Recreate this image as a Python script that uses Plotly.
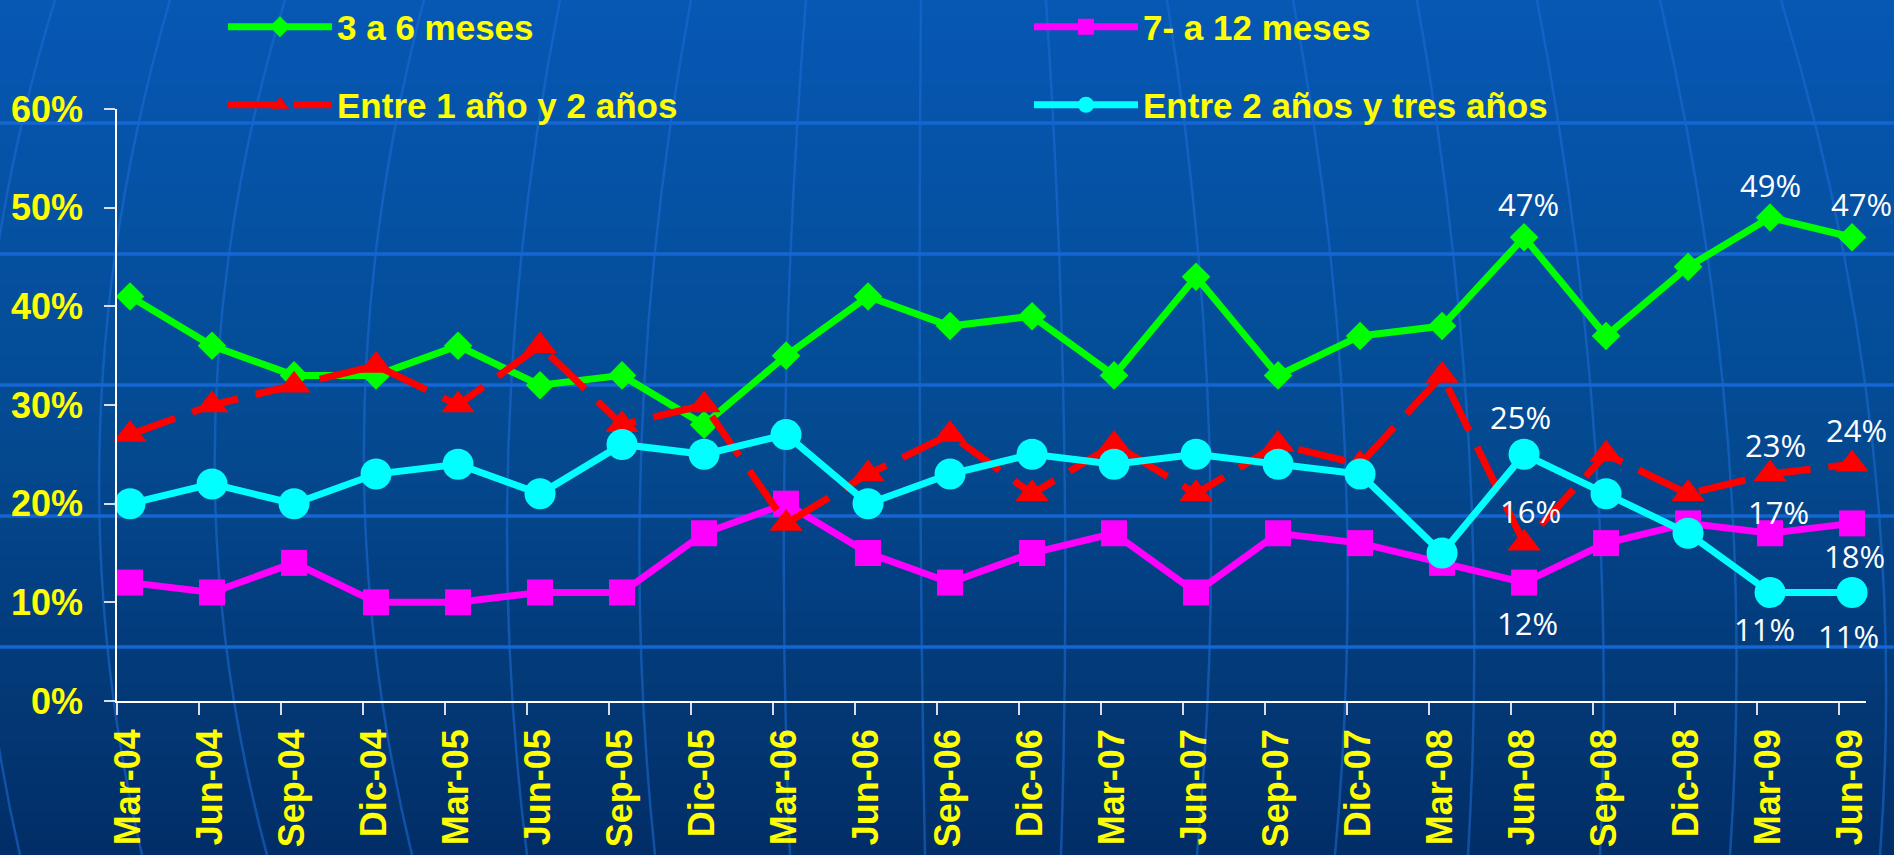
import plotly.graph_objects as go

# ---------------- data ----------------
categories = ["Mar-04", "Jun-04", "Sep-04", "Dic-04", "Mar-05", "Jun-05", "Sep-05", "Dic-05",
              "Mar-06", "Jun-06", "Sep-06", "Dic-06", "Mar-07", "Jun-07", "Sep-07", "Dic-07",
              "Mar-08", "Jun-08", "Sep-08", "Dic-08", "Mar-09", "Jun-09"]

s_3a6 = [41, 36, 33, 33, 36, 32, 33, 28, 35, 41, 38, 39, 33, 43, 33, 37, 38, 47, 37, 44, 49, 47]
s_7a12 = [12, 11, 14, 10, 10, 11, 11, 17, 20, 15, 12, 15, 17, 11, 17, 16, 14, 12, 16, 18, 17, 18]
s_1a2 = [27, 30, 32, 34, 30, 36, 28, 30, 18, 23, 27, 21, 26, 21, 26, 24, 33, 16, 25, 21, 23, 24]
s_2a3 = [20, 22, 20, 23, 24, 21, 26, 25, 27, 20, 23, 25, 24, 25, 24, 23, 15, 25, 21, 17, 11, 11]

series_names = ["3 a 6 meses", "7- a 12 meses", "Entre 1 año y 2 años", "Entre 2 años y tres años"]
y_ticks = [0, 10, 20, 30, 40, 50, 60]

# which points carry a value label: (series index, point index, x shift px, y shift px)
labelled = [
    (0, 17, 4, 33), (0, 20, 0, 33), (0, 21, 9, 33),
    (3, 17, -4, 37), (3, 20, -6, -37), (3, 21, -4, -44),
    (2, 17, 6, 32), (2, 20, 5, 29), (2, 21, 4, 34),
    (1, 17, 3, -40), (1, 20, 8, 21), (1, 21, 2, -33),
]

# ---------------- geometry / style ----------------
W, H = 1894, 855
ML, MR, MT, MB = 117, 28, 109, 154
PW = W - ML - MR
PH = H - MT - MB


def px_x(x):
    return (x - ML) / PW


def px_y(y):
    return (H - MB - y) / PH


YELLOW = "#FFFF00"
AXFONT = "Liberation Sans, Arial, sans-serif"

all_series = [s_3a6, s_7a12, s_1a2, s_2a3]
styles = [
    dict(color="#00FF00", symbol="diamond", size=22, dash="solid", legend="legend"),
    dict(color="#FF00FF", symbol="square", size=26, dash="solid", legend="legend2"),
    dict(color="#FF0000", symbol="triangle-up", size=29, dash="48px,18px", legend="legend3"),
    dict(color="#00FFFF", symbol="circle", size=31, dash="solid", legend="legend4"),
]

fig = go.Figure()
for name, vals, st in zip(series_names, all_series, styles):
    fig.add_trace(go.Scatter(
        x=categories, y=vals, name=name, mode="lines+markers",
        line=dict(color=st["color"], width=7, dash=st["dash"]),
        marker=dict(color=st["color"], symbol=st["symbol"], size=st["size"], line=dict(width=0)),
        legend=st["legend"], cliponaxis=False,
    ))

# value labels
annotations = []
for si, pi, dx, dy in labelled:
    annotations.append(dict(
        x=categories[pi], y=all_series[si][pi], xref="x", yref="y",
        text=f"{all_series[si][pi]}%", showarrow=False,
        xshift=dx, yshift=dy, xanchor="center", yanchor="middle",
        font=dict(family="Open Sans, Noto Sans, sans-serif", size=31, color="white"),
    ))

# background: vertical gradient + globe decoration
shapes = []
top_c = (6, 88, 180)
mid_c = (4, 74, 146)
bot_c = (2, 46, 102)
N = 60
for i in range(N):
    y0 = H * i / N - (2 if i == 0 else 0)
    y1 = H * (i + 1) / N + (3 if i == N - 1 else 1)
    t = (i + 0.5) / N
    if t < 0.5:
        f = t / 0.5
        c = [round(top_c[k] + (mid_c[k] - top_c[k]) * f) for k in range(3)]
    else:
        f = (t - 0.5) / 0.5
        c = [round(mid_c[k] + (bot_c[k] - mid_c[k]) * f) for k in range(3)]
    shapes.append(dict(type="rect", xref="paper", yref="paper", layer="below",
                       x0=px_x(-2), x1=px_x(W + 2), y0=px_y(y1), y1=px_y(y0),
                       fillcolor=f"rgb({c[0]},{c[1]},{c[2]})", line=dict(width=0)))

meridians = [(55, -20, 20), (170, 100, 142), (285, 215, 267), (424, 364, 412), (560, 509, 527),
             (691, 642, 655), (806, 785, 790), (921, 920, 925), (1046, 1064, 1061),
             (1167, 1209, 1197), (1293, 1344, 1335), (1417, 1468, 1468), (1537, 1594, 1600),
             (1660, 1727, 1730), (1781, 1871, 1880)]
for xt, xm, xb in meridians:
    ym = 430
    cx = 2 * xm - (xt + xb) / 2
    cy = 2 * ym - (0 + H) / 2
    path = (f"M {px_x(xt)},{px_y(0)} Q {px_x(cx)},{px_y(cy)} {px_x(xb)},{px_y(H)}")
    shapes.append(dict(type="path", xref="paper", yref="paper", layer="below", path=path,
                       line=dict(color="rgba(30,110,215,0.55)", width=2.5)))

for yy in [123, 254, 385, 516, 647]:
    shapes.append(dict(type="line", xref="paper", yref="paper", layer="below",
                       x0=px_x(0), x1=px_x(W), y0=px_y(yy), y1=px_y(yy),
                       line=dict(color="#1466d2", width=3.5)))

legend_common = dict(bgcolor="rgba(0,0,0,0)", borderwidth=0, itemwidth=104,
                     xanchor="left", yanchor="middle", orientation="v",
                     font=dict(family=AXFONT, size=35, color=YELLOW, weight="bold"))

fig.update_layout(
    width=W, height=H, autosize=False,
    margin=dict(l=ML, r=MR, t=MT, b=MB, pad=0, autoexpand=False),
    paper_bgcolor="rgb(4,70,140)", plot_bgcolor="rgba(0,0,0,0)",
    showlegend=True,
    legend=dict(legend_common, x=px_x(223), y=px_y(27)),
    legend2=dict(legend_common, x=px_x(1029), y=px_y(27)),
    legend3=dict(legend_common, x=px_x(223), y=px_y(105)),
    legend4=dict(legend_common, x=px_x(1029), y=px_y(105)),
    xaxis=dict(
        type="category", categoryorder="array", categoryarray=categories,
        range=[-0.159, len(categories) - 1 + 0.17],
        tickmode="array", tickvals=[i - 0.159 for i in range(len(categories))], ticktext=categories,
        ticklabelshift=11, ticklabelstandoff=0, automargin=False,
        tickangle=-90, ticks="outside", ticklen=12, tickwidth=1.5, tickcolor="#d8dde8",
        showline=True, linecolor="white", linewidth=1.5, showgrid=False, zeroline=False,
        tickfont=dict(family=AXFONT, size=36, color=YELLOW, weight="bold"),
    ),
    yaxis=dict(
        range=[0, 60], tickmode="array", tickvals=y_ticks, ticktext=[f"{v}%" for v in y_ticks],
        ticks="outside", ticklen=11, tickwidth=1.5, tickcolor="#d8dde8",
        ticklabelstandoff=14, automargin=False,
        showline=True, linecolor="white", linewidth=1.5, showgrid=False, zeroline=False,
        tickfont=dict(family=AXFONT, size=36, color=YELLOW, weight="bold"),
    ),
    shapes=shapes,
    annotations=annotations,
)

fig.write_html(
    "out.html",
    config={"displayModeBar": False},
    post_script="document.body.style.margin='0px';document.body.style.overflow='hidden';"
                "document.documentElement.style.overflow='hidden';",
)
